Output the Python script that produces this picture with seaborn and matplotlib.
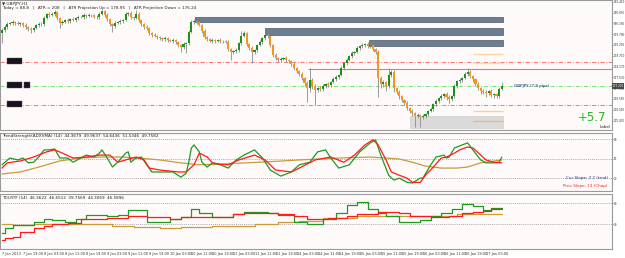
import numpy as np
import matplotlib
matplotlib.use('Agg')
import matplotlib.pyplot as plt
import matplotlib.transforms as mtransforms
from matplotlib.patches import Rectangle
import seaborn as sns

# ---------------- data ----------------
first_open = 179.85
closes = [
    180.00, 180.15, 180.30, 180.35, 180.40, 180.35, 180.30, 180.35, 180.25, 180.15,
    180.05, 180.00, 180.10, 180.25, 180.30, 180.30, 180.60, 180.80, 180.75, 180.80,
    180.90, 180.60, 180.35, 180.40, 180.50, 180.45, 180.55, 180.50, 180.60, 180.65,
    180.65, 180.75, 180.70, 180.75, 180.75, 180.65, 180.65, 180.80, 180.95, 180.75,
    180.55, 180.30, 180.20, 180.35, 180.40, 180.45, 180.50, 180.80, 180.85, 180.65,
    180.60, 180.80, 180.50, 180.30, 180.15, 180.10, 179.85, 179.75, 179.70, 179.65,
    179.60, 179.55, 179.60, 179.50, 179.45, 179.50, 179.40, 179.25, 179.15, 179.30,
    179.35, 179.90, 180.40, 180.45, 180.40, 180.25, 179.95, 179.65, 179.55, 179.45,
    179.50, 179.45, 179.50, 179.45, 179.45, 179.40, 179.05, 178.90, 178.95, 179.00,
    179.35, 179.70, 179.85, 179.30, 179.10, 178.90, 179.00, 179.25, 179.40, 179.60,
    179.75, 179.70, 179.25, 178.75, 178.60, 178.50, 178.55, 178.60, 178.50, 178.45,
    178.30, 178.10, 177.95, 177.80, 177.60, 177.35, 177.10, 177.50, 177.20, 177.00,
    177.10, 177.05, 177.20, 177.30, 177.25, 177.40, 177.55, 177.65, 177.75, 178.10,
    178.35, 178.50, 178.70, 178.85, 178.90, 179.10, 179.20, 179.25, 179.30, 179.20,
    179.25, 179.05, 178.90, 177.60, 177.30, 177.40, 177.20, 177.75, 177.90, 177.10,
    176.90, 176.70, 176.50, 176.35, 176.10, 175.95, 175.85, 175.70, 175.75, 175.65,
    175.70, 175.80, 175.95, 176.05, 176.30, 176.45, 176.60, 176.70, 176.80, 176.65,
    176.55, 176.70, 177.20, 177.45, 177.50, 177.60, 177.80, 177.90, 177.70, 177.55,
    177.30, 177.10, 176.95, 176.90, 176.85, 176.95, 176.75, 176.80, 176.70, 177.05,
    177.20]
# wick lengths in hundredths of a yen
upper_wick = [
    8, 10, 12, 6, 8, 5, 10, 6, 5, 8,
    6, 8, 5, 6, 10, 8, 12, 6, 8, 10,
    10, 6, 5, 8, 6, 10, 5, 8, 6, 8,
    5, 8, 6, 10, 5, 6, 8, 10, 5, 6,
    8, 5, 6, 8, 5, 10, 6, 12, 5, 8,
    6, 18, 8, 5, 6, 8, 5, 6, 8, 5,
    6, 5, 8, 6, 5, 8, 6, 5, 6, 8,
    5, 10, 12, 8, 6, 5, 6, 8, 5, 6,
    8, 5, 6, 10, 5, 6, 8, 5, 6, 8,
    6, 25, 12, 5, 6, 8, 6, 5, 10, 6,
    12, 8, 5, 6, 8, 5, 10, 6, 8, 5,
    6, 8, 5, 6, 8, 5, 10, 60, 8, 10,
    6, 8, 10, 5, 8, 6, 8, 10, 5, 8,
    6, 8, 5, 10, 6, 8, 5, 10, 6, 8,
    10, 6, 5, 12, 8, 10, 6, 35, 12, 8,
    6, 8, 5, 6, 8, 5, 10, 6, 8, 5,
    8, 6, 5, 8, 6, 10, 5, 8, 6, 10,
    8, 6, 8, 5, 10, 6, 10, 20, 8, 6,
    5, 8, 6, 8, 10, 6, 8, 5, 6, 10,
    20]
lower_wick = [
    50, 8, 10, 6, 8, 10, 6, 8, 12, 8,
    10, 15, 8, 6, 10, 12, 8, 6, 10, 5,
    8, 10, 25, 10, 6, 8, 12, 6, 8, 10,
    6, 10, 8, 5, 12, 6, 8, 10, 6, 8,
    10, 12, 30, 8, 6, 10, 8, 5, 8, 12,
    8, 6, 10, 8, 12, 10, 8, 12, 6, 10,
    8, 10, 12, 8, 6, 10, 8, 12, 25, 8,
    45, 10, 6, 8, 10, 6, 12, 8, 10, 6,
    8, 10, 6, 8, 10, 6, 12, 40, 10, 8,
    10, 8, 6, 12, 8, 55, 10, 8, 6, 10,
    8, 10, 12, 10, 8, 12, 10, 6, 10, 8,
    10, 12, 8, 10, 12, 15, 70, 20, 15, 75,
    10, 12, 8, 10, 12, 8, 6, 10, 8, 6,
    8, 10, 6, 8, 12, 6, 8, 10, 8, 12,
    8, 10, 12, 95, 20, 15, 25, 10, 8, 20,
    10, 15, 12, 8, 10, 12, 15, 55, 10, 50,
    12, 8, 10, 6, 10, 8, 12, 10, 8, 15,
    20, 10, 8, 12, 10, 8, 6, 10, 12, 15,
    10, 12, 15, 10, 20, 12, 10, 15, 10, 8,
    6]

time_labels = ["7 Jan 2013", "7 Jan 19:00", "8 Jan 03:00", "8 Jan 11:00", "8 Jan 19:00",
               "9 Jan 03:00", "9 Jan 11:00", "9 Jan 19:00", "10 Jan 03:00", "10 Jan 11:00",
               "10 Jan 19:00", "11 Jan 03:00", "11 Jan 11:00", "11 Jan 19:00", "14 Jan 03:00",
               "14 Jan 11:00", "14 Jan 19:00", "15 Jan 03:00", "15 Jan 11:00", "15 Jan 19:00",
               "16 Jan 03:00", "16 Jan 11:00", "16 Jan 19:00", "17 Jan 03:00"]
price_ticks = [181.41, 180.87, 180.33, 179.79, 179.25, 178.71, 178.17,
               177.63, 177.09, 176.55, 176.01, 175.47]

# supply zones: (low, high, start bar)
zone_low = [180.40, 179.75, 179.20]
zone_high = [180.65, 180.10, 179.50]
zone_start = [73.4, 100.0, 139.5]
demand_low, demand_high, demand_start = 175.10, 175.70, 155.0
zone_end = 190.5
levels_red = [178.40, 176.25]
level_green = 177.20
resist_level, resist_start = 178.05, 116.3
proj_levels = [178.80, 178.35, 175.95, 175.45]
proj_colors = ['#ffd5a0', '#ffe08a', '#ffd27a', '#f2b58a']
proj_start = 179.0

# oscillator panel
fast_idx = [0, 3, 6, 8, 10, 12, 14, 16, 18, 20, 22, 25, 27, 30, 32, 35, 37, 38, 40, 42,
            44, 47, 48, 49, 51, 53, 55, 57, 60, 65, 68, 70, 71, 72, 73, 75, 76, 78, 80, 83,
            86, 89, 92, 96, 99, 102, 106, 110, 113, 117, 120, 123, 125, 128, 132, 136, 140, 142, 144, 147,
            149, 151, 154, 156, 159, 160, 163, 165, 168, 169, 170, 172, 175, 177, 179, 182, 184, 187, 189, 190]
fast_val = [41, 51.5, 48.5, 51.5, 44, 45, 53, 64, 64, 65.5, 51.5, 51.5, 45, 51.5, 56, 53, 59, 64, 51.5, 37.6,
            45, 59, 61, 45, 51.5, 53, 41, 30, 30, 30, 22, 28, 45, 67, 71.7, 61, 45, 37.6, 44, 41,
            36, 48.5, 56, 64, 51.5, 33, 23.6, 30, 41, 45, 61, 64, 51.5, 36, 41, 61, 74.8, 79.5, 56, 25,
            17.5, 20.5, 14, 13, 20.5, 20.5, 41, 53, 56, 51.5, 53, 67, 71.7, 74.8, 64, 48.5, 44, 44, 45, 53]
slow_idx = [0, 2, 7, 12, 17, 20, 23, 27, 32, 37, 41, 44, 47, 51, 54, 56, 60, 67, 70, 73,
            75, 78, 80, 83, 86, 90, 96, 100, 104, 110, 113, 119, 125, 130, 134, 138, 141, 143, 146, 148,
            151, 154, 156, 159, 161, 164, 167, 169, 172, 174, 177, 179, 182, 184, 187, 190]
slow_val = [36, 44, 47, 53, 61, 64, 59, 51.5, 53, 56, 56, 45, 48.5, 53, 48.5, 36, 33, 30, 30, 41,
            59, 53, 44, 42, 41, 48.5, 56, 48.5, 33, 30, 36, 48.5, 53, 45, 56, 71.7, 79.5, 71.7, 48.5, 30,
            25, 20.5, 14, 14, 25, 37.6, 51.5, 53, 59, 64, 68.5, 67, 56, 48.5, 45, 44]
trend_idx = [0, 7, 14, 22, 30, 37, 45, 52, 60, 68, 75, 83, 98, 113, 128, 140, 151, 156, 161, 167, 173, 177, 182, 190]
trend_val = [27, 30, 37.6, 47, 51.5, 53, 53, 51.5, 48.5, 44, 41, 42, 45, 48.5, 51.5, 53, 50, 45, 39, 36, 36, 37.6, 44, 48.5]

# TDI panel (stepped higher-timeframe values)
tdi_green_idx = [0, 1, 4, 12, 16, 19, 24, 28, 32, 40, 44, 48, 55, 64, 68, 72, 75, 80, 88, 92,
                 101, 105, 111, 116, 122, 127, 131, 135, 139, 143, 146, 151, 159, 163, 167, 171, 175, 179, 183, 186, 190]
tdi_green_val = [31.4, 36.2, 39, 42, 44.8, 43.8, 42, 44.8, 48.6, 47.6, 48.6, 53.3, 42, 44.8, 46.7, 54.3, 50.5, 46.7, 49.5, 51.4,
                 50.5, 48.6, 42, 40, 44.8, 50.5, 58, 61, 54.3, 50.5, 47.6, 42, 43.8, 47.6, 50.5, 54.3, 59, 57, 53.3, 55, 55]
tdi_red_idx = [0, 1, 4, 7, 12, 16, 19, 25, 30, 40, 48, 55, 64, 68, 88, 92,
               105, 111, 116, 124, 131, 135, 143, 151, 155, 163, 170, 175, 179, 183, 186, 190]
tdi_red_val = [24.8, 26.7, 27.6, 32.4, 36.2, 38, 40, 41, 44.8, 45.7, 47.6, 46.7, 44.8, 46.7, 49.5, 50.5,
               49.5, 47.6, 44.8, 45.7, 47.6, 49.5, 51.4, 50.5, 47.6, 46.7, 47.6, 50.5, 51.4, 52.4, 54.3, 54.3]
tdi_base_idx = [0, 4, 12, 42, 50, 60, 68, 80, 96, 105, 113, 122, 135, 173, 190]
tdi_base_val = [40, 39, 40, 38, 37.1, 36.2, 37.1, 38, 40, 42, 42.9, 45.7, 47.6, 49.5, 49.5]

# ---------------- figure ----------------
sns.set_theme(style='white')
plt.rcParams['font.family'] = ['DejaVu Sans']

W, H = 625, 258
fig = plt.figure(figsize=(6.25, 2.58), dpi=100, facecolor='white')


def px_box(x0, y0, x1, y1):
    return [x0 / W, 1 - y1 / H, (x1 - x0) / W, (y1 - y0) / H]


ax1 = fig.add_axes(px_box(0, 0, 612, 130))
ax2 = fig.add_axes(px_box(0, 133, 612, 191))
ax3 = fig.add_axes(px_box(0, 194, 612, 249))

bg = '#fffafa'
XLIM = (-0.76, 231.9)
for ax in (ax1, ax2, ax3):
    ax.set_facecolor(bg)
    ax.set_xlim(*XLIM)
    for s in ax.spines.values():
        s.set_color('#9a9a9a')
        s.set_linewidth(0.8)
    ax.yaxis.tick_right()
    ax.tick_params(axis='y', labelsize=2.0, length=1.0, pad=0.2, colors='#333333', width=0.4)
    ax.grid(False)
for ax in (ax1, ax2):
    ax.set_xticks([])

# ---- main price panel ----
n = len(closes)
idx = np.arange(n)
c = np.array(closes)
o = np.array([first_open] + closes[:-1])
hi = np.maximum(o, c) + np.array(upper_wick) / 100
lo = np.minimum(o, c) - np.array(lower_wick) / 100
bull = c >= o

# zones
for zl, zh, zs in zip(zone_low, zone_high, zone_start):
    ax1.add_patch(Rectangle((zs, zl), zone_end - zs, zh - zl, fc='#6d7e90', ec='#4e5a68', lw=0.5, zorder=1))
ax1.add_patch(Rectangle((demand_start, demand_low), zone_end - demand_start, demand_high - demand_low,
                        fc='#dadada', ec='#c8c8c8', lw=0.4, zorder=1))

dashdot = (0, (5, 2, 1, 2))
for lv in levels_red:
    ax1.axhline(lv, color='#ff5c5c', ls=dashdot, lw=0.6, zorder=2)
ax1.axhline(level_green, color='#66dd66', ls=dashdot, lw=0.6, zorder=2)
ax1.hlines(resist_level, resist_start, XLIM[1], color='#f07070', lw=0.8, zorder=2)
for lv, col in zip(proj_levels, proj_colors):
    ax1.hlines(lv, proj_start, zone_end, color=col, lw=1.0, zorder=2)

ax1.vlines(idx, lo, hi, color='#8c8c8c', lw=0.6, zorder=3)
ax1.bar(idx, np.maximum(np.abs(c - o), 0.02), bottom=np.minimum(o, c), width=0.8,
        color=np.where(bull, '#1f8f1f', '#f7941d'), linewidth=0, zorder=4)

ax1.set_ylim(175.0, 181.5)
ax1.set_yticks(price_ticks)
ax1.set_yticklabels([f"{p:.3f}" for p in price_ticks])

blend1 = mtransforms.blended_transform_factory(ax1.transAxes, ax1.transData)
ax1.text(1.001, c[-1], f"{c[-1]:.3f}", transform=blend1, fontsize=2.0, color='white',
         va='center', ha='left', bbox=dict(fc='#4a4a4a', ec='none', pad=0.4), clip_on=False, zorder=6)
ax1.text(0.004, 0.985, "\u25bc GBPJPY,H1", transform=ax1.transAxes, fontsize=3, va='top', color='#222222')
ax1.text(0.004, 0.95, "Today = 88.8   |   ATR = 208   |   ATR Projection Up = 178.95   |   ATR Projection Down = 176.24",
         transform=ax1.transAxes, fontsize=3, va='top', color='#222222')
for lv, lab in [(levels_red[0], '178.400'), (level_green, '177.200'), (levels_red[1], '176.250')]:
    ax1.text(0.012, lv + 0.06, lab, transform=blend1, fontsize=2.3, color='#1a1020', va='center',
             bbox=dict(fc='#1a1020', ec='#555555', lw=0.3, pad=0.5), zorder=5)
ax1.text(0.04, level_green + 0.06, '0.0', transform=blend1, fontsize=2.3, color='#1a1020', va='center',
         bbox=dict(fc='#1a1020', ec='#555555', lw=0.3, pad=0.5), zorder=5)
ax1.text(194.5, level_green, "GBPJPY (7.9 pips)", fontsize=3, color='#1c1c8c', va='center', ha='left', zorder=5)
ax1.text(0.967, 0.096, "+5.7", transform=ax1.transAxes, fontsize=8.5, color='#22bb22',
         ha='center', va='center', zorder=5)
ax1.text(0.998, 0.005, "Label", transform=ax1.transAxes, fontsize=3, color='#222222', ha='right', va='bottom')

# ---- oscillator panel ----
for v in (80, 50, 20):
    ax2.axhline(v, color='#8a8a8a', ls=(0, (1, 1.5)), lw=0.6, zorder=1)
sns.lineplot(x=trend_idx, y=trend_val, ax=ax2, color='#cc9a3a', linewidth=0.9, estimator=None, sort=False)
sns.lineplot(x=fast_idx, y=fast_val, ax=ax2, color='#1f9a1f', linewidth=0.9, estimator=None, sort=False)
sns.lineplot(x=slow_idx, y=slow_val, ax=ax2, color='#ff1a1a', linewidth=0.9, estimator=None, sort=False)
ax2.set_ylim(0.7, 90.0)
ax2.set_yticks([80, 50, 20])
ax2.set_yticklabels(['80', '50', '20'])
ax2.set_xlabel('')
ax2.set_ylabel('')
ax2.set_xlim(*XLIM)
ax2.text(0.004, 0.975, "TrendStrength(ADXVMA) (14)  44.3679  49.9637  54.6436  51.5346  49.7582",
         transform=ax2.transAxes, fontsize=3, va='top', color='#222222')
ax2.text(0.993, 0.224, "Cur Slope: 7.7 (trnd)", transform=ax2.transAxes, fontsize=3,
         color='#2a2a9a', ha='right', va='center')
ax2.text(0.993, 0.086, "Prev Slope: 13 (Chop)", transform=ax2.transAxes, fontsize=3,
         color='#ee2222', ha='right', va='center')

# ---- TDI panel ----
for v in (60, 40):
    ax3.axhline(v, color='#8a8a8a', ls=(0, (1, 1.5)), lw=0.6, zorder=1)
sns.lineplot(x=tdi_base_idx, y=tdi_base_val, ax=ax3, color='#cc9a3a', linewidth=0.9,
             estimator=None, sort=False, drawstyle='steps-post')
sns.lineplot(x=tdi_green_idx, y=tdi_green_val, ax=ax3, color='#1f9a1f', linewidth=0.9,
             estimator=None, sort=False, drawstyle='steps-post')
sns.lineplot(x=tdi_red_idx, y=tdi_red_val, ax=ax3, color='#ff1a1a', linewidth=0.9,
             estimator=None, sort=False, drawstyle='steps-post')
ax3.set_ylim(16.2, 68.6)
ax3.set_yticks([60, 40])
ax3.set_yticklabels(['60', '40'])
ax3.set_ylabel('')
ax3.set_xlim(*XLIM)
ax3.text(0.004, 0.96, "TDI-RTF (14)  46.3622  46.6512  39.7569  44.3069  46.5896",
         transform=ax3.transAxes, fontsize=3, va='top', color='#222222')
xt = np.arange(len(time_labels)) * 8
ax3.set_xticks(xt)
ax3.set_xticklabels(time_labels, ha='left')
ax3.tick_params(axis='x', labelsize=2.5, length=1.5, pad=1, colors='#333333', width=0.4)
ax3.set_xlabel('')

fig.savefig('out.png', dpi=100, facecolor='white')
